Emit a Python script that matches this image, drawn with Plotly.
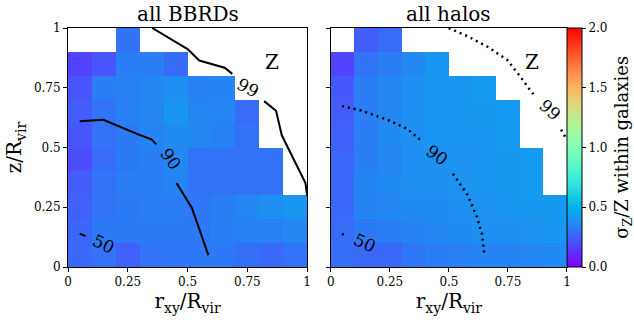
import numpy as np
import plotly.graph_objects as go

N = None
# cell centres (10 x 10 grid, 0.1 wide)
x_centers = [0.05, 0.15, 0.25, 0.35, 0.45, 0.55, 0.65, 0.75, 0.85, 0.95]
y_centers = [0.05, 0.15, 0.25, 0.35, 0.45, 0.55, 0.65, 0.75, 0.85, 0.95]

# sigma_Z/Z, rows from bottom (z=0.05) to top (z=0.95)
bbrd_vals = [
    [0.27, 0.30, 0.25, 0.30, 0.31, 0.32, 0.32, 0.29, 0.27, 0.30],
    [0.26, 0.32, 0.32, 0.32, 0.32, 0.32, 0.33, 0.34, 0.34, 0.36],
    [0.25, 0.30, 0.32, 0.33, 0.33, 0.31, 0.33, 0.36, 0.38, 0.40],
    [0.24, 0.30, 0.33, 0.33, 0.35, 0.30, 0.30, 0.30, 0.30, N],
    [0.20, 0.28, 0.32, 0.33, 0.36, 0.30, 0.30, 0.30, 0.30, N],
    [0.22, 0.30, 0.32, 0.35, 0.37, 0.36, 0.34, 0.30, N, N],
    [0.24, 0.30, 0.34, 0.36, 0.40, 0.36, 0.36, 0.28, N, N],
    [0.22, 0.33, 0.34, 0.36, 0.38, 0.34, 0.35, N, N, N],
    [0.17, 0.22, 0.33, 0.33, 0.28, N, N, N, N, N],
    [N, N, 0.30, N, N, N, N, N, N, N],
]
halo_vals = [
    [0.29, 0.27, 0.27, 0.31, 0.33, 0.34, 0.35, 0.35, 0.36, 0.37],
    [0.28, 0.32, 0.33, 0.35, 0.36, 0.37, 0.38, 0.38, 0.39, 0.40],
    [0.27, 0.35, 0.36, 0.37, 0.37, 0.38, 0.39, 0.40, 0.41, 0.41],
    [0.27, 0.35, 0.37, 0.38, 0.38, 0.39, 0.40, 0.41, 0.42, N],
    [0.26, 0.33, 0.36, 0.38, 0.38, 0.39, 0.40, 0.41, 0.42, N],
    [0.25, 0.33, 0.37, 0.38, 0.40, 0.40, 0.40, 0.42, N, N],
    [0.24, 0.33, 0.36, 0.38, 0.40, 0.40, 0.41, 0.42, N, N],
    [0.23, 0.33, 0.36, 0.38, 0.40, 0.40, 0.42, N, N, N],
    [0.17, 0.30, 0.33, 0.36, 0.40, N, N, N, N, N],
    [N, 0.24, 0.28, N, N, N, N, N, N, N],
]

# contour lines (percentile of mass enclosed), broken where labelled
bbrd_99a_x = [0.352, 0.50, 0.549, 0.606, 0.655, 0.687]
bbrd_99a_y = [1.0, 0.912, 0.864, 0.849, 0.834, 0.808]
bbrd_99b_x = [0.82, 0.870, 0.894, 0.951, 0.993, 1.0]
bbrd_99b_y = [0.694, 0.654, 0.551, 0.432, 0.351, 0.299]
bbrd_90a_x = [0.049, 0.148, 0.303, 0.349, 0.369]
bbrd_90a_y = [0.61, 0.616, 0.551, 0.534, 0.513]
bbrd_90b_x = [0.454, 0.518, 0.587]
bbrd_90b_y = [0.351, 0.247, 0.05]
bbrd_50_x = [0.049, 0.073]
bbrd_50_y = [0.140, 0.129]

halo_99a_x = [0.499, 0.58, 0.661, 0.746, 0.802, 0.859]
halo_99a_y = [1.0, 0.965, 0.923, 0.867, 0.797, 0.72]
halo_99b_x = [0.975, 0.997]
halo_99b_y = [0.575, 0.537]
halo_90a_x = [0.047, 0.124, 0.237, 0.322, 0.381]
halo_90a_y = [0.673, 0.656, 0.617, 0.579, 0.530]
halo_90b_x = [0.517, 0.576, 0.619, 0.64, 0.65]
halo_90b_y = [0.39, 0.306, 0.208, 0.137, 0.053]
halo_50_x = [0.047, 0.055]
halo_50_y = [0.139, 0.135]

# contour label positions (data coords) and angles
bbrd_labels = [("99", 0.754, 0.748, 28), ("90", 0.43, 0.453, 55), ("50", 0.15, 0.098, 25)]
halo_labels = [("99", 0.929, 0.656, 42), ("90", 0.449, 0.467, 35), ("50", 0.145, 0.102, 25)]

tick_vals = [0, 0.25, 0.5, 0.75, 1]
tick_text = ["0", "0.25", "0.5", "0.75", "1"]
cbar_ticks = [0.0, 0.5, 1.0, 1.5, 2.0]
cbar_text = ["0.0", "0.5", "1.0", "1.5", "2.0"]

# matplotlib 'rainbow' colormap
cs = []
for t in np.linspace(0, 1, 41):
    r = min(1, abs(2 * t - 0.5))
    g = np.sin(np.pi * t)
    b = np.cos(np.pi * t / 2)
    cs.append([float(t), f"rgb({int(r*255)},{int(max(0,g)*255)},{int(max(0,b)*255)})"])

FONT = "DejaVu Serif"
W, H = 634, 322
ML, MR, MT, MB = 68, W - 566.7, 28, H - 267
PW, PH = W - ML - MR, H - MT - MB

L_dom = [0, 239 / PW]
R_dom = [(330.7 - ML) / PW, 1]

fig = go.Figure()
fig.add_trace(go.Heatmap(x=x_centers, y=y_centers, z=bbrd_vals, colorscale=cs, zmin=0, zmax=2,
                         showscale=False, xaxis="x", yaxis="y", hoverongaps=False))
fig.add_trace(go.Heatmap(x=x_centers, y=y_centers, z=halo_vals, colorscale=cs, zmin=0, zmax=2,
                         xaxis="x2", yaxis="y2", hoverongaps=False,
                         colorbar=dict(x=1.0, xanchor="left", xpad=0, ypad=0,
                                       y=0, yanchor="bottom", len=1,
                                       lenmode="fraction", thickness=15,
                                       outlinecolor="black", outlinewidth=1,
                                       tickvals=cbar_ticks, ticktext=cbar_text,
                                       ticks="outside", ticklen=4, tickcolor="black",
                                       tickfont=dict(family=FONT, size=12, color="black"))))

solid = dict(color="black", width=2)
dotted = dict(color="black", width=2.5, dash="2px,4px")
for xs, ys in [(bbrd_99a_x, bbrd_99a_y), (bbrd_99b_x, bbrd_99b_y), (bbrd_90a_x, bbrd_90a_y),
               (bbrd_90b_x, bbrd_90b_y), (bbrd_50_x, bbrd_50_y)]:
    fig.add_trace(go.Scatter(x=xs, y=ys, mode="lines", line=solid, showlegend=False,
                             xaxis="x", yaxis="y", cliponaxis=False))
for xs, ys in [(halo_99a_x, halo_99a_y), (halo_99b_x, halo_99b_y), (halo_90a_x, halo_90a_y),
               (halo_90b_x, halo_90b_y), (halo_50_x, halo_50_y)]:
    fig.add_trace(go.Scatter(x=xs, y=ys, mode="lines", line=dotted, showlegend=False,
                             xaxis="x2", yaxis="y2", cliponaxis=False))

ann = []
for txt, x, y, a in bbrd_labels:
    ann.append(dict(text=txt, x=x, y=y, xref="x", yref="y", showarrow=False, textangle=a,
                    font=dict(family=FONT, size=17, color="black")))
for txt, x, y, a in halo_labels:
    ann.append(dict(text=txt, x=x, y=y, xref="x2", yref="y2", showarrow=False, textangle=a,
                    font=dict(family=FONT, size=17, color="black")))
for xr, yr in [("x", "y"), ("x2", "y2")]:
    ann.append(dict(text="Z", x=0.853, y=0.858, xref=xr, yref=yr, showarrow=False,
                    font=dict(family=FONT, size=20, color="black")))
title_y = 1 + (MT - 14) / PH
ann.append(dict(text="all BBRDs", x=(L_dom[0] + L_dom[1]) / 2, y=title_y, xref="paper", yref="paper",
                xanchor="center", yanchor="middle",
                showarrow=False, font=dict(family=FONT, size=20, color="black")))
ann.append(dict(text="all halos", x=(R_dom[0] + R_dom[1]) / 2, y=title_y, xref="paper", yref="paper",
                xanchor="center", yanchor="middle",
                showarrow=False, font=dict(family=FONT, size=20, color="black")))
# colorbar label
ann.append(dict(text="σ<sub>Z</sub>/Z within galaxies", x=1 + (622 - 566.7) / PW, y=0.5,
                xref="paper", yref="paper", xanchor="center", yanchor="middle", textangle=-90,
                showarrow=False, font=dict(family=FONT, size=18, color="black")))

axis_common = dict(range=[0, 1], showgrid=False, zeroline=False, showline=True, mirror=True,
                   linecolor="black", linewidth=1, ticks="outside", ticklen=4, tickcolor="black",
                   tickvals=tick_vals, ticktext=tick_text, automargin=False,
                   tickfont=dict(family=FONT, size=12, color="black"))
xtitle = dict(text="r<sub>xy</sub>/R<sub>vir</sub>", font=dict(family=FONT, size=20, color="black"), standoff=4)

fig.update_layout(
    width=W, height=H, margin=dict(l=ML, r=MR, t=MT, b=MB, autoexpand=False),
    paper_bgcolor="white", plot_bgcolor="white", showlegend=False,
    xaxis=dict(domain=L_dom, anchor="y", title=xtitle, **axis_common),
    yaxis=dict(domain=[0, 1], anchor="x", title=dict(text="z/R<sub>vir</sub>", font=dict(family=FONT, size=20, color="black"), standoff=6), **axis_common),
    xaxis2=dict(domain=R_dom, anchor="y2", title=xtitle, **axis_common),
    yaxis2=dict(domain=[0, 1], anchor="x2", showticklabels=False, **axis_common),
    annotations=ann,
)

fig.write_html("out.html")
